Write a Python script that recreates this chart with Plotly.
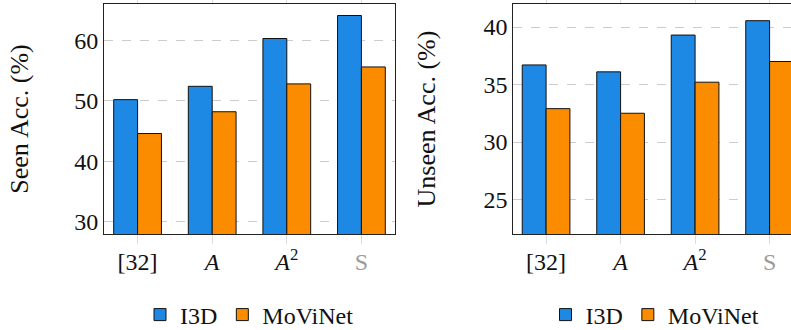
import plotly.graph_objects as go

categories = ["[32]", "<i>A</i>", "<i>A</i><sup>2</sup>", "<span style='color:#9a9a9a'>S</span>"]
series_names = ["I3D", "MoViNet"]
seen_i3d = [50.2, 52.4, 60.3, 64.1]
seen_movinet = [44.6, 48.2, 52.8, 55.6]
unseen_i3d = [36.7, 36.1, 39.3, 40.55]
unseen_movinet = [32.9, 32.5, 35.2, 37.0]
seen_ticks = [30, 40, 50, 60]
unseen_ticks = [25, 30, 35, 40]

BLUE = "#1e88e5"
ORANGE = "#fb8c00"
FONT = "Liberation Serif"
xpos = list(range(len(categories)))

fig = go.Figure()
for name, vals, col in [(series_names[0], seen_i3d, BLUE), (series_names[1], seen_movinet, ORANGE)]:
    fig.add_trace(go.Bar(x=xpos, y=vals, name=name, marker=dict(color=col, line=dict(color="#111", width=1)),
                         xaxis="x", yaxis="y", legend="legend", offsetgroup=name))
for name, vals, col in [(series_names[0], unseen_i3d, BLUE), (series_names[1], unseen_movinet, ORANGE)]:
    fig.add_trace(go.Bar(x=xpos, y=vals, name=name, marker=dict(color=col, line=dict(color="#111", width=1)),
                         xaxis="x2", yaxis="y2", legend="legend2", offsetgroup=name))

W, H = 791, 330
mt, mb = 4, 96
xcommon = dict(tickvals=xpos, ticktext=categories, showgrid=False, zeroline=False,
               showline=True, linecolor="#222", linewidth=1, mirror="allticks",
               ticks="outside", ticklen=9, tickcolor="#dddddd", tickwidth=1, automargin=False,
               ticklabelstandoff=-3,
               tickfont=dict(family=FONT, size=24, color="#111"), fixedrange=True)
ycommon = dict(showgrid=True, gridcolor="#cccccc", griddash="dash", gridwidth=1, zeroline=False,
               showline=True, linecolor="#222", linewidth=1, ticks="", automargin=False,
               tickfont=dict(family=FONT, size=24, color="#111"), fixedrange=True)

leg_y = 1 - 315 / H
fig.update_layout(
    width=W, height=H, margin=dict(l=0, r=0, t=mt, b=mb, autoexpand=False),
    paper_bgcolor="white", plot_bgcolor="white",
    barmode="group", bargap=0.36, bargroupgap=0,
    xaxis=dict(domain=[104 / W, 395 / W], range=[-0.45, 3.45], anchor="y", **xcommon),
    yaxis=dict(domain=[0, 1], range=[28, 66], tickvals=seen_ticks, anchor="x", mirror=True,
               title=dict(text="Seen Acc. (%)", font=dict(family=FONT, size=26, color="#111"), standoff=38),
               **ycommon),
    xaxis2=dict(domain=[513.3 / W, 1.0], range=[-0.44, -0.44 + (W - 513.3) / 74.5], anchor="y2", **xcommon),
    yaxis2=dict(domain=[0, 1], range=[22, 42], tickvals=unseen_ticks, anchor="x2",
                title=dict(text="Unseen Acc. (%)", font=dict(family=FONT, size=26, color="#111"), standoff=40),
                **ycommon),
    legend=dict(orientation="h", x=249.5 / W, xanchor="center", y=leg_y, yanchor="middle", yref="container",
                font=dict(family=FONT, size=24, color="#111"), bgcolor="rgba(0,0,0,0)",
                itemwidth=30, tracegroupgap=0),
    legend2=dict(orientation="h", x=655 / W, xanchor="center", y=leg_y, yanchor="middle", yref="container",
                 font=dict(family=FONT, size=24, color="#111"), bgcolor="rgba(0,0,0,0)",
                 itemwidth=30, tracegroupgap=0),
)

fig.write_html("out.html", config={"displayModeBar": False, "staticPlot": True},
               post_script="document.body.style.margin='0';document.body.style.overflow='hidden';")
